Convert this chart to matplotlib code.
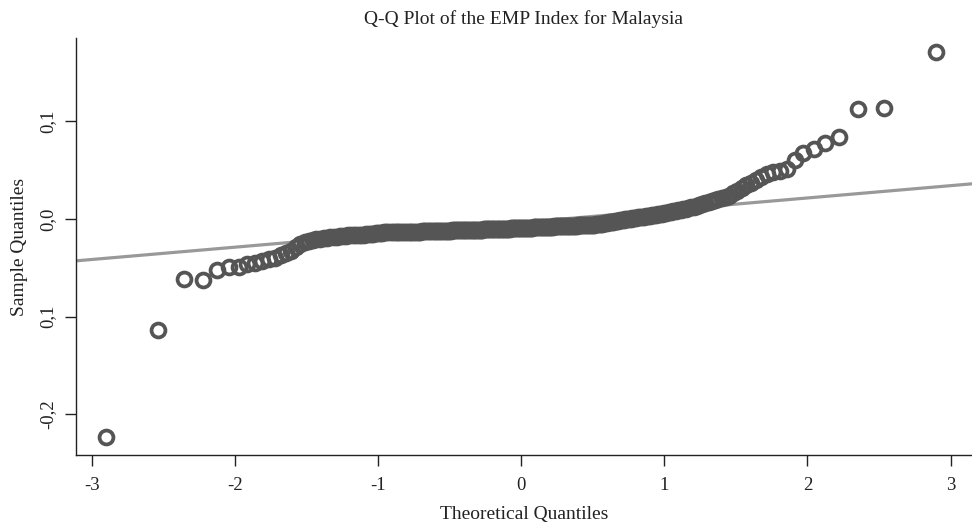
import matplotlib
matplotlib.use("Agg")
import matplotlib.pyplot as plt
from statistics import NormalDist

# Sorted sample quantiles of the EMP index
sample_low = [-0.2235, -0.114, -0.062, -0.063, -0.052, -0.049, -0.049, -0.046, -0.045, -0.043,
              -0.041, -0.040, -0.037, -0.035, -0.033, -0.029, -0.026, -0.024, -0.023, -0.022,
              -0.021, -0.021, -0.020, -0.020, -0.019, -0.019, -0.019, -0.018, -0.018, -0.018,
              -0.017, -0.017, -0.017, -0.016, -0.016, -0.016, -0.016, -0.015, -0.015, -0.015,
              -0.015, -0.014, -0.014]
sample_mid = [-0.0140, -0.0140, -0.0139, -0.0139, -0.0138, -0.0138, -0.0137, -0.0137, -0.0136, -0.0136,
              -0.0135, -0.0135, -0.0134, -0.0134, -0.0133, -0.0133, -0.0132, -0.0132, -0.0131, -0.0131,
              -0.0130, -0.0130, -0.0129, -0.0129, -0.0128, -0.0128, -0.0127, -0.0127, -0.0126, -0.0126,
              -0.0125, -0.0125, -0.0124, -0.0124, -0.0123, -0.0123, -0.0122, -0.0122, -0.0121, -0.0120,
              -0.0120, -0.0119, -0.0119, -0.0118, -0.0118, -0.0117, -0.0117, -0.0116, -0.0116, -0.0115,
              -0.0115, -0.0114, -0.0114, -0.0113, -0.0113, -0.0112, -0.0112, -0.0111, -0.0111, -0.0110,
              -0.0110, -0.0109, -0.0109, -0.0108, -0.0108, -0.0107, -0.0107, -0.0106, -0.0106, -0.0105,
              -0.0105, -0.0104, -0.0104, -0.0103, -0.0103, -0.0102, -0.0102, -0.0101, -0.0101, -0.0100,
              -0.0100, -0.0099, -0.0099, -0.0098, -0.0098, -0.0097, -0.0097, -0.0096, -0.0096, -0.0095,
              -0.0095,
              -0.0094, -0.0094, -0.0093, -0.0092, -0.0092, -0.0091, -0.0090, -0.0090, -0.0089, -0.0088,
              -0.0088, -0.0087, -0.0086, -0.0086, -0.0085, -0.0084, -0.0084, -0.0083, -0.0082, -0.0082,
              -0.0081, -0.0080, -0.0080, -0.0079, -0.0078, -0.0078, -0.0077, -0.0076, -0.0076, -0.0075,
              -0.0074, -0.0074, -0.0073, -0.0072, -0.0072, -0.0071, -0.0070, -0.0070, -0.0069, -0.0068,
              -0.0068, -0.0067, -0.0066, -0.0066, -0.0065, -0.0064, -0.0064, -0.0063, -0.0062, -0.0062,
              -0.0061, -0.0060]
sample_high = [-0.0058, -0.0056, -0.0054, -0.0052, -0.0050, -0.0048, -0.0045, -0.0042, -0.0039, -0.0036,
               -0.0033, -0.0030, -0.0027, -0.0024, -0.0021, -0.0018, -0.0015, -0.0012, -0.0009, -0.0006,
               -0.0003, 0.0000, 0.0003, 0.0006, 0.0009, 0.0012, 0.0015, 0.0018, 0.0021, 0.0024,
               0.0027, 0.0030, 0.0033, 0.0036, 0.0039, 0.0042, 0.0046, 0.0050, 0.0055, 0.0060,
               0.0065, 0.0070, 0.0075, 0.0080, 0.0085, 0.0090, 0.0095, 0.0100, 0.0105, 0.0110,
               0.0118, 0.0125, 0.0132, 0.0140, 0.0150, 0.0160, 0.0170, 0.0180,
               0.019, 0.020, 0.021, 0.022, 0.023, 0.026, 0.029, 0.032, 0.035, 0.037,
               0.040, 0.043, 0.046, 0.048, 0.049, 0.051, 0.060, 0.067, 0.072, 0.078,
               0.084, 0.112, 0.114, 0.171]
sample = sample_low + sample_mid + sample_high

# fitted reference line
line_slope = 0.0126
line_intercept = -0.0038

x_ticks = [-3, -2, -1, 0, 1, 2, 3]
y_ticks = [0.1, 0.0, -0.1, -0.2]
y_tick_labels = ["0,1", "0,0", "0,1", "-0,2"]

# theoretical normal quantiles for the plotting positions
n = len(sample)
nd = NormalDist()
theoretical = [nd.inv_cdf((i - 0.5) / n) for i in range(1, n + 1)]

plt.rcParams["font.family"] = ["Liberation Serif", "DejaVu Serif"]

fig = plt.figure(figsize=(9.72, 5.30), dpi=100)
ax = fig.add_axes([0.078, 0.141, 0.922, 0.787])

ax.axline((0, line_intercept), slope=line_slope, color="#999999", lw=2.3, zorder=1)
ax.plot(theoretical, sample, "o", ms=10, mfc="none", mec="#555555", mew=2.7, zorder=2)

ax.set_xlim(-3.11, 3.15)
ax.set_ylim(-0.242, 0.185)
ax.set_xticks(x_ticks)
ax.set_xticklabels([str(v) for v in x_ticks])
ax.set_yticks(y_ticks)
ax.set_yticklabels(y_tick_labels, rotation=90, va="center")

for s in ["top", "right"]:
    ax.spines[s].set_visible(False)
for s in ["left", "bottom"]:
    ax.spines[s].set_color("#222222")
    ax.spines[s].set_linewidth(1.0)
ax.tick_params(axis="both", length=8, width=1.0, color="#222222", labelsize=13.5, labelcolor="#222222")
ax.tick_params(axis="x", pad=8)
ax.tick_params(axis="y", pad=6)

ax.set_title("Q-Q Plot of the EMP Index for Malaysia", fontsize=14, color="#222222", pad=10)
ax.set_xlabel("Theoretical Quantiles", fontsize=14, color="#222222", labelpad=8)
ax.set_ylabel("Sample Quantiles", fontsize=14, color="#222222", labelpad=8)

fig.savefig("out.png", dpi=100)
